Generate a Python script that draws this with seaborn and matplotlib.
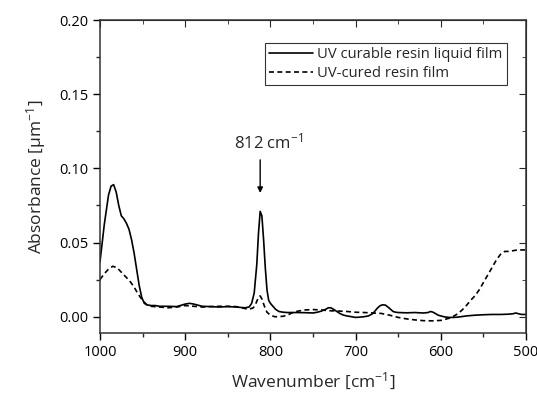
import numpy as np
import pandas as pd
import matplotlib
matplotlib.use("Agg")
import matplotlib.pyplot as plt
from matplotlib.ticker import MultipleLocator
import seaborn as sns

# ---- data ----
wn_liquid = [1000, 995, 990, 987, 984, 981, 978, 975, 972, 969,
             966, 963, 960, 957, 954, 951, 948, 945, 940, 935,
             930, 920, 910, 900, 895, 890, 880, 870, 860, 850,
             840, 830, 825, 822, 819, 816, 814, 812, 810, 808,
             806, 804, 802, 800, 797, 794, 790, 785, 780, 770,
             760, 750, 745, 740, 735, 732, 729, 726, 722, 718,
             714, 710, 705, 700, 695, 690, 685, 680, 677, 674,
             671, 668, 665, 662, 659, 656, 653, 650, 645, 640,
             635, 630, 625, 620, 615, 612, 609, 606, 603, 600,
             595, 590, 585, 580, 570, 560, 550, 540, 530, 520,
             515, 512, 509, 505, 500]
abs_liquid = [0.037, 0.062, 0.082, 0.088, 0.089, 0.084, 0.075, 0.068, 0.066, 0.063,
              0.059, 0.052, 0.043, 0.032, 0.021, 0.013, 0.009, 0.008, 0.0075, 0.0075,
              0.007, 0.007, 0.0068, 0.0085, 0.009, 0.0085, 0.007, 0.0068, 0.0065, 0.0068,
              0.0065, 0.006, 0.0065, 0.009, 0.016, 0.035, 0.056, 0.071, 0.068, 0.052,
              0.033, 0.018, 0.011, 0.009, 0.007, 0.005, 0.0035, 0.003, 0.0028, 0.0028,
              0.0027, 0.0025, 0.003, 0.0038, 0.005, 0.006, 0.006, 0.005, 0.0035, 0.002,
              0.001, 0.0005, 0.0, -0.0005, -0.0003, 0.0, 0.0005, 0.002, 0.004, 0.006,
              0.0075, 0.008, 0.0078, 0.0065, 0.005, 0.0035, 0.003, 0.0028, 0.0027, 0.0026,
              0.0027, 0.0028, 0.0026, 0.0025, 0.0028, 0.0035, 0.003, 0.002, 0.001, 0.0005,
              -0.0002, -0.0005, -0.0005, -0.0003, 0.0005, 0.001, 0.0013, 0.0015, 0.0015, 0.0017,
              0.002, 0.0025, 0.002, 0.0015, 0.0015]

wn_cured = [1000, 995, 990, 985, 980, 975, 970, 965, 960, 955,
            950, 945, 940, 930, 920, 910, 900, 890, 880, 870,
            860, 850, 840, 830, 825, 820, 817, 814, 812, 810,
            807, 804, 800, 795, 790, 785, 780, 775, 770, 760,
            750, 740, 730, 720, 710, 700, 690, 680, 670, 660,
            650, 640, 630, 620, 610, 600, 595, 590, 585, 580,
            575, 570, 565, 560, 555, 550, 545, 540, 535, 530,
            525, 520, 515, 510, 505, 500]
abs_cured = [0.025, 0.029, 0.032, 0.034, 0.033, 0.030, 0.027, 0.024, 0.020, 0.015,
             0.011, 0.008, 0.007, 0.0065, 0.006, 0.0065, 0.0075, 0.007, 0.0065, 0.0068,
             0.007, 0.007, 0.0068, 0.0055, 0.005, 0.006, 0.009, 0.013, 0.014, 0.012,
             0.007, 0.003, 0.001, 0.0, 0.0, 0.0003, 0.001, 0.0025, 0.0035, 0.0045,
             0.0048, 0.0045, 0.004, 0.0038, 0.0035, 0.003, 0.0028, 0.0025, 0.0022, 0.001,
             -0.0005, -0.0015, -0.0022, -0.0027, -0.0028, -0.0025, -0.0018, -0.001, 0.0003, 0.002,
             0.0045, 0.0075, 0.011, 0.014, 0.018, 0.023, 0.028, 0.033, 0.038, 0.042,
             0.044, 0.044, 0.0445, 0.045, 0.045, 0.045]

label_liquid = "UV curable resin liquid film"
label_cured = "UV-cured resin film"
peak_wn = 812
peak_label = "812 cm$^{-1}$"
x_ticks = [1000, 900, 800, 700, 600, 500]
y_ticks = [0.00, 0.05, 0.10, 0.15, 0.20]

df = pd.concat([
    pd.DataFrame({"wn": wn_liquid, "A": abs_liquid, "s": label_liquid}),
    pd.DataFrame({"wn": wn_cured, "A": abs_cured, "s": label_cured}),
])

sns.set_style("ticks")
plt.rcParams["font.family"] = ["Open Sans", "DejaVu Sans"]
plt.rcParams["mathtext.fontset"] = "custom"
plt.rcParams["mathtext.rm"] = "Open Sans"
plt.rcParams["mathtext.it"] = "Open Sans"

fig = plt.figure(figsize=(5.37, 3.97), dpi=100)
ax = fig.add_axes([100 / 537, 1 - 333 / 397, 426 / 537, 313 / 397])

sns.lineplot(data=df, x="wn", y="A", hue="s", style="s",
             palette=["black", "black"],
             dashes={label_liquid: "", label_cured: (3, 2)},
             sort=False, estimator=None, linewidth=1.2, ax=ax, legend=True)

ax.set_xlim(1000, 500)
ax.set_ylim(-0.011, 0.20)
ax.set_xticks(x_ticks)
ax.set_yticks(y_ticks)
ax.set_yticklabels([f"{v:.2f}" for v in y_ticks])
ax.xaxis.set_minor_locator(MultipleLocator(50))
ax.yaxis.set_minor_locator(MultipleLocator(0.025))
ax.tick_params(which="major", direction="out", length=5, width=1, labelsize=10.5, colors="black")
ax.tick_params(which="minor", direction="out", length=3, width=1)
for sp in ax.spines.values():
    sp.set_visible(True)
    sp.set_color("#333333")
    sp.set_linewidth(1.1)

# inward ticks on top and right
top = ax.secondary_xaxis("top")
top.set_xticks(x_ticks)
top.xaxis.set_minor_locator(MultipleLocator(50))
top.tick_params(which="major", direction="in", length=5, labeltop=False)
top.tick_params(which="minor", direction="in", length=3)
right = ax.secondary_yaxis("right")
right.set_yticks(y_ticks)
right.yaxis.set_minor_locator(MultipleLocator(0.025))
right.tick_params(which="major", direction="in", length=5, labelright=False)
right.tick_params(which="minor", direction="in", length=3)

ax.set_xlabel("Wavenumber [cm$^{-1}$]", fontsize=12.5, labelpad=8)
ax.set_ylabel("Absorbance [µm$^{-1}$]", fontsize=12.5, labelpad=8)

leg = ax.legend(title=None, loc="upper right", bbox_to_anchor=(0.955, 0.927),
                borderaxespad=0,
                fontsize=10.6, frameon=True, fancybox=False, edgecolor="black",
                borderpad=0.3, handlelength=3.0, handletextpad=0.25, labelspacing=0.25)
leg.get_frame().set_linewidth(0.8)

ax.text(peak_wn - 10, 0.1137, peak_label, ha="center", va="baseline", fontsize=12)
ax.annotate("", xy=(peak_wn, 0.0834), xytext=(peak_wn, 0.1057),
            arrowprops=dict(arrowstyle="-|>", color="black", lw=1, mutation_scale=8,
                            shrinkA=0, shrinkB=0))

fig.savefig("out.png", dpi=100)
